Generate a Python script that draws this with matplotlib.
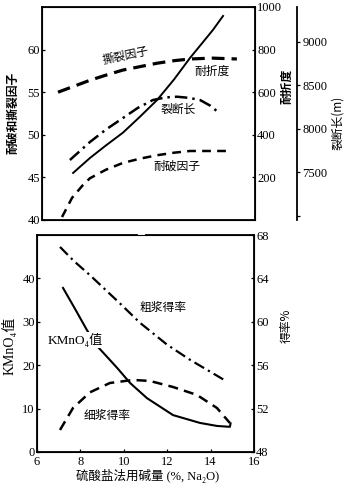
import matplotlib
matplotlib.use('Agg')
import matplotlib.pyplot as plt

plt.rcParams['font.family'] = ['Liberation Serif', 'Noto Sans CJK SC', 'DejaVu Sans']
CJK = ['Noto Sans CJK SC', 'Liberation Serif', 'DejaVu Sans']

# ---- upper panel: strength vs. alkali charge ----
tear_x = [6.75, 7.5, 8.25, 9.0, 9.8, 10.6, 11.4, 12.2, 12.95, 14.0, 15.15]
tear_y = [55.0, 55.7, 56.4, 57.0, 57.6, 58.0, 58.4, 58.7, 58.9, 59.0, 58.9]

fold_x = [7.46, 8.25, 9.0, 9.8, 10.6, 11.4, 12.2, 12.95, 13.5, 14.03, 14.5]
fold_y = [221, 291, 350, 410, 485, 563, 660, 761, 828, 893, 958]

brk_x = [7.31, 8.25, 9.0, 9.8, 10.5, 11.21, 11.8, 12.34, 12.9, 13.42, 13.9, 14.26]
brk_y = [7640, 7847, 7990, 8123, 8240, 8330, 8360, 8368, 8355, 8330, 8265, 8192]

burst_x = [6.94, 7.41, 7.92, 8.25, 9.0, 9.8, 10.6, 11.4, 12.2, 12.95, 13.9, 14.83]
burst_y = [40.35, 42.6, 44.1, 44.9, 45.9, 46.7, 47.2, 47.6, 47.9, 48.1, 48.1, 48.1]

# ---- lower panel: KMnO4 number and yields ----
crude_x = [7.06, 7.7, 8.44, 9.82, 10.75, 11.99, 13.05, 14.66]
crude_y = [66.9, 65.6, 64.3, 61.7, 59.9, 57.9, 56.5, 54.6]

kmno4_x = [7.2, 7.75, 8.3, 8.81, 9.69, 10.29, 11.07, 12.27, 13.51, 14.3, 14.89, 14.92]
kmno4_y = [37.8, 33.0, 28.1, 24.2, 19.4, 15.9, 12.4, 8.5, 6.7, 6.0, 5.8, 6.6]

fine_x = [7.06, 7.66, 8.44, 9.36, 10.42, 11.2, 12.27, 13.37, 14.29, 14.89]
fine_y = [50.03, 52.06, 53.5, 54.36, 54.64, 54.55, 53.99, 53.26, 52.06, 50.67]

factor_ticks = [40, 45, 50, 55, 60]
fold_ticks = [200, 400, 600, 800, 1000]
brk_ticks = [7500, 8000, 8500, 9000]
x_ticks = [6, 8, 10, 12, 14, 16]
kmno4_ticks = [0, 10, 20, 30, 40]
yield_ticks = [48, 52, 56, 60, 64, 68]

W, H = 360, 488
fig = plt.figure(figsize=(W / 100, H / 100), dpi=100)


def box(l, t, r, b):
    return [l / W, 1 - b / H, (r - l) / W, (b - t) / H]


tick_kw = dict(labelsize=9, length=2.5, width=0.9, pad=1.5)

# upper axes
ax1 = fig.add_axes(box(42, 7, 255, 220))
ax1.set_xlim(6, 16)
ax1.set_ylim(40, 65)
ax1.set_xticks([])
ax1.set_yticks(factor_ticks)
ax1.tick_params(axis='y', direction='in', **tick_kw)
for s in ax1.spines.values():
    s.set_linewidth(1.3)

ax1.plot(tear_x, tear_y, color='k', lw=2.3, ls=(0, (4, 2.2)))
ax1.plot(burst_x, burst_y, color='k', lw=1.8, ls=(0, (3.5, 2.5)))

ax1b = ax1.twinx()
ax1b.set_ylim(0, 1000)
ax1b.set_yticks(fold_ticks)
ax1b.tick_params(axis='y', direction='in', **tick_kw)
ax1b.plot(fold_x, fold_y, color='k', lw=1.4)

ax1c = ax1.twinx()
ax1c.set_ylim(6950, 9400)
ax1c.set_yticks(brk_ticks)
ax1c.set_yticks([7000], minor=True)
ax1c.spines['right'].set_position(('axes', (297 - 42) / 213))
ax1c.spines['right'].set_linewidth(1.3)
for side in ['top', 'bottom', 'left']:
    ax1c.spines[side].set_visible(False)
ax1c.tick_params(axis='y', which='both', direction='out', **tick_kw)
ax1c.plot(brk_x, brk_y, color='k', lw=1.8, ls=(0, (5, 2, 1, 2)))

ax1.text(9.95, 59.3, '撕裂因子', family=CJK, fontsize=8.5, rotation=12,
         ha='center', va='center')
ax1.text(13.98, 57.5, '耐折度', family=CJK, fontsize=8.5, ha='center', va='center')
ax1.text(12.4, 53.0, '裂断长', family=CJK, fontsize=8.5, ha='center', va='center')
ax1.text(12.34, 46.3, '耐破因子', family=CJK, fontsize=8.5, ha='center', va='center')

# lower axes
ax2 = fig.add_axes(box(37, 235, 254, 452))
ax2.set_xlim(6, 16)
ax2.set_ylim(0, 50)
ax2.set_xticks(x_ticks)
ax2.set_yticks(kmno4_ticks)
ax2.tick_params(direction='in', **tick_kw)
ax2.tick_params(axis='x', pad=3)
for s in ax2.spines.values():
    s.set_linewidth(1.3)
ax2.spines['top'].set_visible(False)
ax2.plot([0, 0.46], [1, 1], transform=ax2.transAxes, color='k', lw=1.3, clip_on=False)
ax2.plot([0.5, 1], [1, 1], transform=ax2.transAxes, color='k', lw=1.3, clip_on=False)

ax2.plot(kmno4_x, kmno4_y, color='k', lw=1.5)
ax2.text(7.75, 25.8, 'KMnO₄值', fontsize=9.5, ha='center', va='center',
         bbox=dict(facecolor='white', edgecolor='none', pad=0.5))

ax2b = ax2.twinx()
ax2b.set_ylim(48, 68)
ax2b.set_yticks(yield_ticks)
ax2b.tick_params(axis='y', direction='in', **tick_kw)
ax2b.plot(crude_x, crude_y, color='k', lw=1.6, ls=(0, (5, 2, 1, 2)))
ax2b.plot(fine_x, fine_y, color='k', lw=1.8, ls=(0, (4, 2.5)))

ax2.text(11.8, 33.2, '粗浆得率', family=CJK, fontsize=8.5, ha='center', va='center')
ax2.text(9.23, 8.3, '细浆得率', family=CJK, fontsize=8.5, ha='center', va='center')

# axis titles
fig.text(13 / W, 1 - 113 / H, '耐破和撕裂因子', family=CJK, fontsize=8.5,
         fontweight='bold', rotation=90, ha='center', va='center')
fig.text(287 / W, 1 - 86 / H, '耐折度', family=CJK, fontsize=8.5,
         fontweight='bold', rotation=90, ha='center', va='center')
fig.text(338 / W, 1 - 123 / H, '裂断长(m)', family=CJK, fontsize=8.5,
         rotation=90, ha='center', va='center')
fig.text(9 / W, 1 - 346 / H, 'KMnO₄值', fontsize=10,
         rotation=90, ha='center', va='center')
fig.text(286 / W, 1 - 326 / H, '得率%', family=CJK, fontsize=8.5,
         rotation=90, ha='center', va='center')
fig.text(148 / W, 1 - 476 / H, '硫酸盐法用碱量 (%, Na₂O)', fontsize=9,
         ha='center', va='center')

fig.savefig('out.png', dpi=100)
